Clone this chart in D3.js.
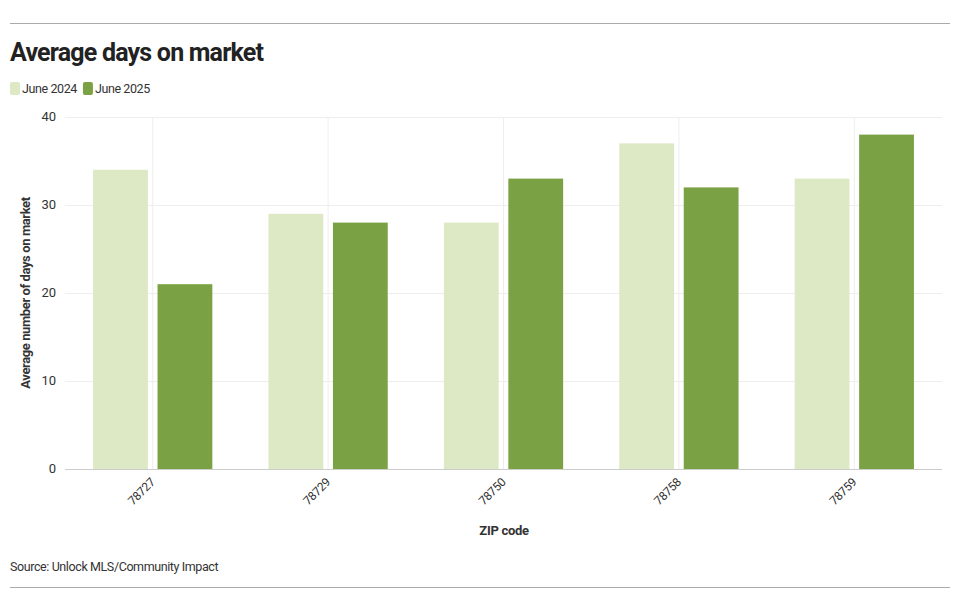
<!DOCTYPE html>
<html><head><meta charset="utf-8">
<script src="https://cdn.jsdelivr.net/npm/d3@7"></script>
<style>body{margin:0;background:#fff;font-family:Roboto,"Noto Sans",sans-serif;}</style>
</head><body>
<svg id="chart" width="960" height="611"></svg>
<script>
const zips = ['78727', '78729', '78750', '78758', '78759'];
const june2024 = [34, 29, 28, 37, 33];
const june2025 = [21, 28, 33, 32, 38];
const seriesNames = ['June 2024', 'June 2025'];
const colors = ['#dde8c4', '#7aa244'];
const yTicks = [0, 10, 20, 30, 40];

const svg = d3.select('svg#chart');
const margin = {top: 117, right: 18, bottom: 142, left: 65};
const width = 960 - margin.left - margin.right;
const height = 611 - margin.top - margin.bottom;

svg.append('line').attr('x1', 10).attr('x2', 950).attr('y1', 23.5).attr('y2', 23.5).attr('stroke', '#aaa');
svg.append('line').attr('x1', 10).attr('x2', 950).attr('y1', 587.5).attr('y2', 587.5).attr('stroke', '#aaa');
svg.append('text').attr('x', 10).attr('y', 61).text('Average days on market')
    .attr('font-size', 25).attr('font-weight', 700).attr('fill', '#222').attr('letter-spacing', '-0.8');

const legend = svg.append('g').attr('transform', 'translate(10,82)');
let lx = 0;
seriesNames.forEach((n, i) => {
    legend.append('rect').attr('x', lx).attr('y', 0).attr('width', 10).attr('height', 13).attr('rx', 2).attr('fill', colors[i]);
    const t = legend.append('text').attr('x', lx + 12).attr('y', 11).text(n)
        .attr('font-size', 12.5).attr('letter-spacing', '-0.4').attr('fill', '#333');
    lx += 12 + t.node().getComputedTextLength() + 6;
});

const g = svg.append('g').attr('transform', `translate(${margin.left},${margin.top})`);
const x = d3.scaleBand().domain(zips).range([0, width]);
const x1 = d3.scaleBand().domain(seriesNames).range([x.bandwidth() * 0.16, x.bandwidth() * 0.84]).paddingInner(0.15);
const y = d3.scaleLinear().domain([0, 40]).range([height, 0]);

g.selectAll('.hg').data(yTicks).join('line')
    .attr('x1', 0).attr('x2', width).attr('y1', d => y(d) + 0.5).attr('y2', d => y(d) + 0.5)
    .attr('stroke', d => d === 0 ? '#ccc' : '#eee');
g.selectAll('.vg').data(zips).join('line')
    .attr('x1', d => x(d) + x.bandwidth() / 2).attr('x2', d => x(d) + x.bandwidth() / 2)
    .attr('y1', 0).attr('y2', height).attr('stroke', '#eee');

[june2024, june2025].forEach((vals, si) => {
    g.selectAll('.b' + si).data(zips).join('rect')
        .attr('x', (d) => x(d) + x1(seriesNames[si]))
        .attr('y', (d, i) => y(vals[i]))
        .attr('width', x1.bandwidth())
        .attr('height', (d, i) => height - y(vals[i]))
        .attr('fill', colors[si]);
});

g.selectAll('.yt').data(yTicks).join('text')
    .attr('x', -9).attr('y', d => y(d) + 4).attr('text-anchor', 'end')
    .attr('font-size', 13).attr('fill', '#333').text(d => d);
g.selectAll('.xt').data(zips).join('text')
    .attr('transform', d => `translate(${x(d) + x.bandwidth() / 2 + 3},${height + 14}) rotate(-45)`)
    .attr('text-anchor', 'end').attr('font-size', 12).attr('letter-spacing', '-0.3').attr('fill', '#333').text(d => d);

svg.append('text').attr('transform', 'translate(30,293) rotate(-90)').attr('text-anchor', 'middle')
    .attr('font-size', 13).attr('font-weight', 700).attr('letter-spacing', '-0.4').attr('fill', '#333').text('Average number of days on market');
svg.append('text').attr('x', 504).attr('y', 535).attr('text-anchor', 'middle')
    .attr('font-size', 13).attr('font-weight', 700).attr('letter-spacing', '-0.3').attr('fill', '#333').text('ZIP code');
svg.append('text').attr('x', 10).attr('y', 571).attr('font-size', 12.5).attr('letter-spacing', '-0.4').attr('fill', '#333')
    .text('Source: Unlock MLS/Community Impact');
</script>
</body></html>
